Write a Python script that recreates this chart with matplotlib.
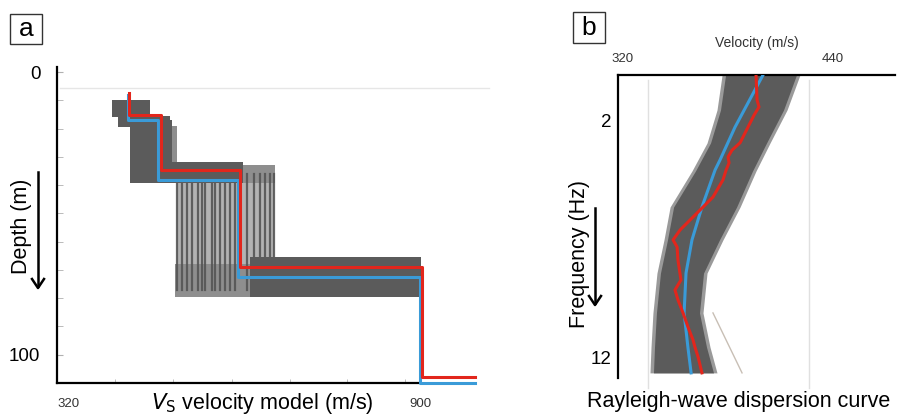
import matplotlib.pyplot as plt
from matplotlib.patches import Rectangle

plt.rcParams['font.family'] = ['Liberation Sans', 'DejaVu Sans']

W, H = 899, 418

# ---------- panel a : Vs models ----------
# best-fit (red) and mean (blue) step profiles: layer velocity and layer top depth
best_v = [435, 486, 612, 903, 988]
best_z = [7.4, 15.2, 34.6, 68.9, 107.8]
mean_v = [433, 481, 609, 900, 988]
mean_z = [8.0, 17.0, 38.2, 72.4, 109.9]

# ensemble of accepted models, read as blocks (v_min, v_max, z_top, z_bottom)
dense_blocks = [
    (408, 469, 9.9, 16.0),
    (418, 500, 15.5, 19.4),
    (437, 504, 17.0, 39.2),
    (441, 617, 31.8, 39.2),
    (628, 905, 65.4, 79.5),
]
faint_blocks = [
    (504, 512, 19.0, 39.2),
    (617, 668, 33.0, 39.2),
    (509, 628, 68.0, 79.5),
]
layer3_lines_v = [511, 519, 527, 535, 546, 551, 556, 567, 572, 580, 588,
                  596, 604, 623, 634, 644, 652, 660, 667]
layer3_top, layer3_bottom = 36.0, 77.0
depth_ticks = [0, 100]
vel_ticks_a = [320, 900]

# ---------- panel b : dispersion curves ----------
freq_mean = [0.10, 0.73, 2.3, 3.69, 4.11, 5.67, 7.06, 8.46, 10.14, 11.6, 12.67]
vel_mean = [400.0, 395.4, 384.0, 375.4, 372.6, 365.1, 359.4, 356.0, 354.9, 357.1, 358.9]

freq_obs = [0.10, 1.16, 1.45, 1.79, 2.96, 3.27, 3.56, 3.81, 4.11, 4.53, 5.25, 5.80, 6.22,
            6.64, 7.06, 7.36, 7.91, 8.75, 9.17, 9.59, 10.14, 10.73, 11.28, 11.58, 12.0, 12.67]
vel_obs = [396.0, 396.6, 397.7, 394.9, 386.9, 382.3, 380.0, 380.6, 378.9, 377.1, 371.4, 364.0,
           358.3, 352.6, 348.6, 350.9, 351.4, 353.1, 349.7, 351.4, 354.3, 357.1, 360.0, 361.1,
           362.9, 365.1]

freq_band = [0.10, 1.58, 2.97, 4.15, 5.67, 7.06, 8.46, 10.14, 11.58, 12.67]
vel_band_lo = [376.6, 373.7, 368.0, 359.4, 346.9, 343.4, 339.4, 337.1, 336.0, 335.4]
vel_band_hi = [421.1, 413.7, 404.0, 396.0, 386.9, 377.1, 368.0, 365.7, 369.7, 373.7]

stray_f = [10.14, 12.67]
stray_v = [371.4, 388.0]
guide_v = [334.3, 426.3]
freq_ticks = [2, 12]
vel_ticks_b = [320, 440]

RED = '#e2261c'
BLUE = '#3a9bd8'
GREY = '#5b5b5b'


def fx(x):
    return x / W


def fy(y):
    return 1 - y / H


def step_xy(v, z):
    xs, ys = [], []
    for i in range(len(v) - 1):
        xs += [v[i], v[i]]
        ys += [z[i], z[i + 1]]
    xs.append(v[-1])
    ys.append(z[-1])
    return xs, ys


fig = plt.figure(figsize=(W / 100, H / 100), dpi=100)

# ---- panel a ----
ax_a = fig.add_axes([fx(57), fy(383), (420 - 57) / W, (383 - 67) / H])
ax_a.set_xlim(320, 900)
ax_a.set_ylim(110, -1.8)

ax_a.plot([325, 1010], [5.6, 5.6], color='#e6e6e6', lw=1, clip_on=False, zorder=0)
ax_a.fill_betweenx([layer3_top, layer3_bottom], min(layer3_lines_v), max(layer3_lines_v),
                   color='#b3b3b3', lw=0, zorder=1)
for v0, v1, z0, z1 in faint_blocks:
    ax_a.fill_betweenx([z0, z1], v0, v1, color='#8e8e8e', lw=0, zorder=1)
for v in layer3_lines_v:
    ax_a.plot([v, v], [layer3_top, layer3_bottom], color='#555555', lw=1.6, alpha=0.9, zorder=2)
for v0, v1, z0, z1 in dense_blocks:
    ax_a.fill_betweenx([z0, z1], v0, v1, color=GREY, lw=0, zorder=3)

xs, ys = step_xy(mean_v, mean_z)
ax_a.plot(xs, ys, color=BLUE, lw=2.2, clip_on=False, zorder=4)
xs, ys = step_xy(best_v, best_z)
ax_a.plot(xs, ys, color=RED, lw=2.2, clip_on=False, zorder=5)

for s in ['top', 'right']:
    ax_a.spines[s].set_visible(False)
for s in ['left', 'bottom']:
    ax_a.spines[s].set_linewidth(1.6)
ax_a.set_yticks(depth_ticks)
ax_a.set_yticklabels([str(t) for t in depth_ticks], fontsize=13.5)
ax_a.set_yticks(range(10, 110, 10), minor=True)
ax_a.tick_params(axis='y', which='both', direction='in', length=4, color='#b0b0b0', pad=12)
ax_a.set_xticks(vel_ticks_a)
ax_a.set_xticklabels([str(t) for t in vel_ticks_a], fontsize=9.5, color='#333333')
ax_a.set_xticks([413, 505, 600, 692, 783, 876], minor=True)
ax_a.tick_params(axis='x', which='major', length=0, pad=11)
ax_a.tick_params(axis='x', which='minor', direction='in', length=3, color='#b0b0b0')
ax_a.get_xticklabels()[0].set_horizontalalignment('left')

fig.text(fx(262), fy(409), r'$V_{\mathrm{S}}$ velocity model (m/s)', fontsize=15.5,
         ha='center', va='baseline')
fig.text(fx(22), fy(226), 'Depth (m)', fontsize=15.5, rotation=90, ha='center', va='center')
fig.patches.append(Rectangle((fx(10), fy(44)), 32 / W, 30 / H, transform=fig.transFigure,
                             fill=False, ec='#333333', lw=1))
fig.text(fx(26), fy(29), 'a', fontsize=19, ha='center', va='center',
         family=['Liberation Sans Narrow', 'Liberation Sans'])
fig.add_artist(plt.Line2D([fx(38), fx(38)], [fy(172), fy(286)], color='k', lw=1.8))
fig.add_artist(plt.Line2D([fx(32), fx(38), fx(44)], [fy(279), fy(288), fy(279)], color='k', lw=1.8))

# ---- panel b ----
ax_b = fig.add_axes([fx(618), fy(378), (895 - 618) / W, (378 - 75) / H])
ax_b.set_xlim(317.14, 475.4)
ax_b.set_ylim(12.886, 0.101)

for v in guide_v:
    ax_b.plot([v, v], [0.3, 13.3], color='#e0e0e0', lw=1, clip_on=False, zorder=0)
ax_b.fill_betweenx(freq_band, vel_band_lo, vel_band_hi, color='#9a9a9a', lw=0, zorder=1)
ax_b.fill_betweenx(freq_band, [v + 2 for v in vel_band_lo], [v - 2 for v in vel_band_hi],
                   color=GREY, lw=0, zorder=2)
ax_b.plot(stray_v, stray_f, color='#c8bfb5', lw=1, zorder=1)
ax_b.plot(vel_mean, freq_mean, color=BLUE, lw=2.2, zorder=3)
ax_b.plot(vel_obs, freq_obs, color=RED, lw=2.2, zorder=4)

for s in ['bottom', 'right']:
    ax_b.spines[s].set_visible(False)
for s in ['left', 'top']:
    ax_b.spines[s].set_linewidth(1.6)
ax_b.xaxis.tick_top()
ax_b.set_xticks(vel_ticks_b)
ax_b.set_xticklabels([str(t) for t in vel_ticks_b], fontsize=9.5, color='#333333')
ax_b.set_yticks(freq_ticks)
ax_b.set_yticklabels([str(t) for t in freq_ticks], fontsize=13.5)
ax_b.tick_params(axis='x', length=0, pad=7)
ax_b.tick_params(axis='y', length=0, pad=5)

fig.text(fx(757), fy(47), 'Velocity (m/s)', fontsize=10, ha='center', va='baseline', color='#333333')
fig.text(fx(739), fy(407), 'Rayleigh-wave dispersion curve', fontsize=15.5, ha='center', va='baseline')
fig.text(fx(580), fy(254), 'Frequency (Hz)', fontsize=15.5, rotation=90, ha='center', va='center')
fig.patches.append(Rectangle((fx(573), fy(43)), 32 / W, 31 / H, transform=fig.transFigure,
                             fill=False, ec='#333333', lw=1))
fig.text(fx(589), fy(28), 'b', fontsize=19, ha='center', va='center',
         family=['Liberation Sans Narrow', 'Liberation Sans'])
fig.add_artist(plt.Line2D([fx(595), fx(595)], [fy(208), fy(303)], color='k', lw=1.8))
fig.add_artist(plt.Line2D([fx(589), fx(595), fx(601)], [fy(296), fy(305), fy(296)], color='k', lw=1.8))

fig.savefig('out.png', dpi=100)
